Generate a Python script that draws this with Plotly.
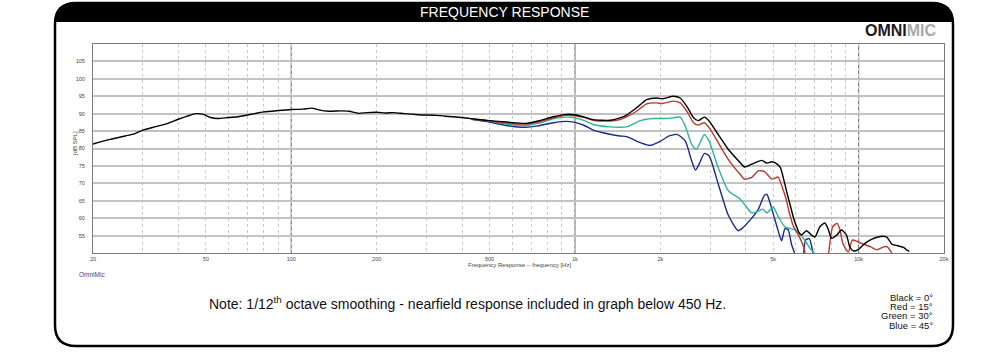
import plotly.graph_objects as go

# ---------------- data ----------------
freq_black = [20, 23, 26, 28, 30, 33, 36, 40, 43, 46, 49, 52, 55, 60, 65, 70, 80, 90, 100, 110, 118,
              125, 135, 150, 160, 172, 185, 200, 215, 230, 250, 280, 325, 360, 400, 450, 500, 573,
              671, 742, 839, 928, 1000, 1080, 1160, 1330, 1440, 1520, 1650, 1790, 1940, 2040, 2220,
              2350, 2480, 2620, 2720, 2860, 2970, 3200, 3470, 3820, 3960, 4200, 4550, 4750, 4950,
              5150, 5300, 5450, 5600, 5750, 5900, 6050, 6200, 6300, 6550, 6830, 7020, 7300, 7600,
              7800, 8030, 8360, 8700, 9070, 9300, 9570, 9970, 10500, 11100, 11700, 12200, 12600,
              13100, 13600, 14400, 14800, 15100]
spl_black = [81.3, 82.6, 83.6, 84.2, 85.3, 86.2, 87.0, 88.4, 89.3, 90.0, 89.8, 88.9, 88.6, 88.9, 89.1,
             89.6, 90.5, 90.9, 91.2, 91.3, 91.6, 91.1, 90.7, 90.8, 90.7, 90.1, 90.3, 90.4, 90.2, 90.3,
             90.0, 89.7, 89.5, 89.2, 88.9, 88.4, 88.0, 87.6, 87.2, 87.9, 89.1, 89.8, 89.7, 89.0, 88.3,
             88.1, 88.8, 89.6, 91.7, 94.0, 94.5, 94.3, 95.0, 94.5, 92.1, 88.8, 88.0, 89.0, 87.9, 84.0,
             79.8, 76.0, 74.7, 75.5, 76.6, 75.8, 76.2, 75.6, 74.5, 71.0, 67.0, 63.5, 60.0, 57.5, 55.5,
             55.2, 56.4, 55.1, 54.6, 57.5, 58.6, 57.0, 54.2, 55.1, 56.6, 55.1, 51.8, 50.6, 51.0, 52.7,
             53.9, 54.6, 54.8, 54.5, 52.5, 52.2, 51.6, 50.8, 50.5]

freq_red = [430, 500, 573, 671, 742, 839, 928, 1000, 1080, 1160, 1330, 1440, 1520, 1650, 1790, 1940,
            2040, 2220, 2350, 2480, 2620, 2720, 2860, 2970, 3200, 3470, 3820, 3960, 4200, 4430, 4650,
            4950, 5200, 5400, 5550, 5700, 5900, 6150, 6400, 6550, 6800, 7500, 7800, 7950, 8100, 8400,
            8600, 8800, 9200, 9500, 9900, 10300, 11000, 11600, 12300, 12600, 13000, 13300]
spl_red = [88.5, 87.9, 87.3, 87.0, 87.6, 88.8, 89.5, 89.4, 88.9, 88.1, 87.9, 88.3, 89.1, 90.7, 92.8,
           93.1, 92.9, 93.6, 93.1, 90.7, 87.4, 86.7, 87.4, 86.0, 81.7, 76.9, 72.6, 71.2, 71.7, 73.6,
           73.4, 71.2, 71.8, 68.5, 65.5, 61.5, 57.5, 55.0, 51.8, 48.5, 46.0, 46.0, 49.0, 54.0, 57.5,
           58.5, 56.6, 52.7, 50.3, 53.7, 53.3, 52.7, 51.8, 50.9, 51.8, 51.8, 50.4, 49.0]

freq_green = [430, 500, 573, 671, 742, 839, 928, 1000, 1080, 1160, 1330, 1440, 1520, 1700, 1890, 2040,
              2220, 2350, 2450, 2580, 2680, 2860, 2970, 3200, 3470, 3820, 4000, 4200, 4430, 4600, 4750,
              5000, 5200, 5500, 6000, 6200, 6500, 6750, 7000, 7200]
spl_green = [88.5, 87.9, 87.0, 86.6, 87.2, 88.5, 89.0, 88.8, 88.0, 86.9, 86.2, 86.1, 86.2, 88.0, 88.6,
             88.6, 88.8, 89.0, 86.4, 81.2, 79.8, 84.0, 82.1, 74.5, 67.9, 65.5, 63.5, 61.5, 62.0, 62.6,
             61.5, 63.2, 60.5, 57.5, 56.6, 55.6, 53.3, 51.3, 49.8, 48.0]

freq_blue = [430, 500, 573, 671, 742, 839, 928, 1000, 1080, 1160, 1330, 1440, 1520, 1700, 1840, 2000,
             2150, 2300, 2450, 2580, 2660, 2740, 2860, 2970, 3200, 3470, 3760, 3900, 4200, 4430, 4650,
             4750, 4860, 5050, 5200, 5350, 5500, 5650, 5800, 5970, 6150, 6350, 6500, 6700, 6850, 6950,
             7100]
spl_blue = [88.4, 87.6, 86.6, 86.1, 86.5, 87.4, 87.8, 87.5, 86.6, 85.3, 84.1, 83.6, 83.4, 81.7, 80.9,
            82.1, 83.6, 84.0, 82.1, 76.4, 73.8, 75.5, 78.6, 77.9, 69.8, 60.9, 56.4, 57.2, 60.0, 62.5,
            66.5, 66.8, 64.7, 60.0, 56.5, 53.5, 57.0, 56.6, 52.5, 49.5, 46.0, 48.0, 53.7, 54.1, 51.5,
            49.0, 46.0]

x_tickvals = [20, 50, 100, 200, 500, 1000, 2000, 5000, 10000, 20000]
x_ticktext = ["20", "50", "100", "200", "500", "1k", "2k", "5k", "10k", "20k"]
x_minor = [30, 40, 60, 70, 80, 90, 300, 400, 600, 700, 800, 900,
           3000, 4000, 6000, 7000, 8000, 9000]
x_major_lines = [100, 1000, 10000]
y_tickvals = [55, 60, 65, 70, 75, 80, 85, 90, 95, 100, 105]

legend_lines = ["Black = 0°", "Red = 15°", "Green = 30°", "Blue = 45°"]

# ---------------- figure ----------------
W, H = 1000, 358


def px(x):
    return x / W


def py(y):
    return 1 - y / H


fig = go.Figure()
series = [
    (freq_blue, spl_blue, "#1c2a8c", "Blue = 45°"),
    (freq_green, spl_green, "#2fb39a", "Green = 30°"),
    (freq_red, spl_red, "#b8392c", "Red = 15°"),
    (freq_black, spl_black, "#000000", "Black = 0°"),
]
for f, s, c, n in series:
    fig.add_trace(go.Scatter(x=f, y=s, mode="lines", name=n,
                             line=dict(color=c, width=1.4, shape="spline", smoothing=0.6),
                             hoverinfo="skip"))

font_main = "Liberation Sans, Arial, sans-serif"

shapes = []
# dark vertical lines at decades
for v in x_major_lines:
    shapes.append(dict(type="line", xref="x", yref="paper", x0=v, x1=v, y0=py(253), y1=py(44),
                       line=dict(color="#7a7a7a", width=1.2), layer="below"))

# title bar and frame
L, R, T, B, r = 55, 953, 3, 346, 21
bar_bottom = 21.5
bar_path = (f"M {px(L)},{py(bar_bottom)} Q {px(L)},{py(T)} {px(L + r)},{py(T)} "
            f"L {px(R - r)},{py(T)} Q {px(R)},{py(T)} {px(R)},{py(bar_bottom)} Z")
shapes.append(dict(type="path", xref="paper", yref="paper", path=bar_path,
                   fillcolor="black", line=dict(color="black", width=1)))
frame_path = (f"M {px(L)},{py(T + r)} Q {px(L)},{py(T)} {px(L + r)},{py(T)} "
              f"L {px(R - r)},{py(T)} Q {px(R)},{py(T)} {px(R)},{py(T + r)} "
              f"L {px(R)},{py(B - r)} Q {px(R)},{py(B)} {px(R - r)},{py(B)} "
              f"L {px(L + r)},{py(B)} Q {px(L)},{py(B)} {px(L)},{py(B - r)} Z")
shapes.append(dict(type="path", xref="paper", yref="paper", path=frame_path,
                   line=dict(color="black", width=2.5)))

annotations = [
    dict(text="FREQUENCY RESPONSE", x=px(504), y=py(12.5), xref="paper", yref="paper",
         showarrow=False, font=dict(family=font_main, size=14, color="white"),
         xanchor="center", yanchor="middle"),
    dict(text="<b>OMNI</b><b><span style='color:#a9a9a9'>MIC</span></b>", x=px(939), y=py(31),
         xref="paper", yref="paper", showarrow=False,
         font=dict(family=font_main, size=16, color="#1a1a1a"),
         xanchor="right", yanchor="middle"),
    dict(text="[dB SPL]", x=px(75), y=py(143), xref="paper", yref="paper", showarrow=False,
         textangle=-90, font=dict(family=font_main, size=6, color="#444"),
         xanchor="center", yanchor="middle"),
    dict(text="Frequency Response -- frequency [Hz]", x=px(519), y=py(264.5), xref="paper",
         yref="paper", showarrow=False, font=dict(family=font_main, size=6, color="#444"),
         xanchor="center", yanchor="middle"),
    dict(text="OmniMic", x=px(77), y=py(274), xref="paper", yref="paper", showarrow=False,
         font=dict(family=font_main, size=6.5, color="#3a3a9e"), xanchor="left", yanchor="middle"),
    dict(text="Note: 1/12<sup>th</sup> octave smoothing - nearfield response included in graph below 450 Hz.",
         x=px(467), y=py(303), xref="paper", yref="paper", showarrow=False,
         font=dict(family=font_main, size=14, color="#111"), xanchor="center", yanchor="middle"),
]
for i, t in enumerate(legend_lines):
    annotations.append(dict(text=t, x=px(935), y=py(297 + i * 9.4), xref="paper", yref="paper",
                            showarrow=False, font=dict(family=font_main, size=9.5, color="#111"),
                            xanchor="right", yanchor="middle"))

fig.update_layout(
    template="none",
    width=W, height=H,
    margin=dict(l=0, r=0, t=0, b=0, pad=0, autoexpand=False),
    paper_bgcolor="white", plot_bgcolor="rgba(0,0,0,0)",
    showlegend=False,
    shapes=shapes,
    annotations=annotations,
    xaxis=dict(
        type="log", domain=[px(93), px(944)], range=[1.30103, 4.30103],
        tickmode="array", tickvals=x_tickvals, ticktext=x_ticktext,
        tickfont=dict(family=font_main, size=5.5, color="#444"),
        ticks="", showgrid=True, gridcolor="#c9c9c9", gridwidth=1, griddash="dot",
        minor=dict(tickmode="array", tickvals=x_minor, showgrid=True, gridcolor="#c9c9c9",
                   gridwidth=1, griddash="dot", ticks=""),
        showline=True, mirror=True, linecolor="#7a7a7a", linewidth=1,
        zeroline=False, automargin=False, fixedrange=True,
    ),
    yaxis=dict(
        domain=[py(253), py(44)], range=[50, 110],
        tickmode="array", tickvals=y_tickvals,
        tickfont=dict(family=font_main, size=5.5, color="#444"),
        ticks="outside", ticklen=6, tickcolor="rgba(0,0,0,0)",
        showgrid=True, gridcolor="#c2c2c2", gridwidth=1.5,
        showline=True, mirror=True, linecolor="#7a7a7a", linewidth=1,
        zeroline=False, automargin=False, fixedrange=True,
    ),
)

# remove the default 8px page margin so the figure sits at the window's top-left corner
fig.write_html("out.html", config={"displayModeBar": False},
               post_script="document.body.style.margin='0';document.body.style.overflow='hidden';")
